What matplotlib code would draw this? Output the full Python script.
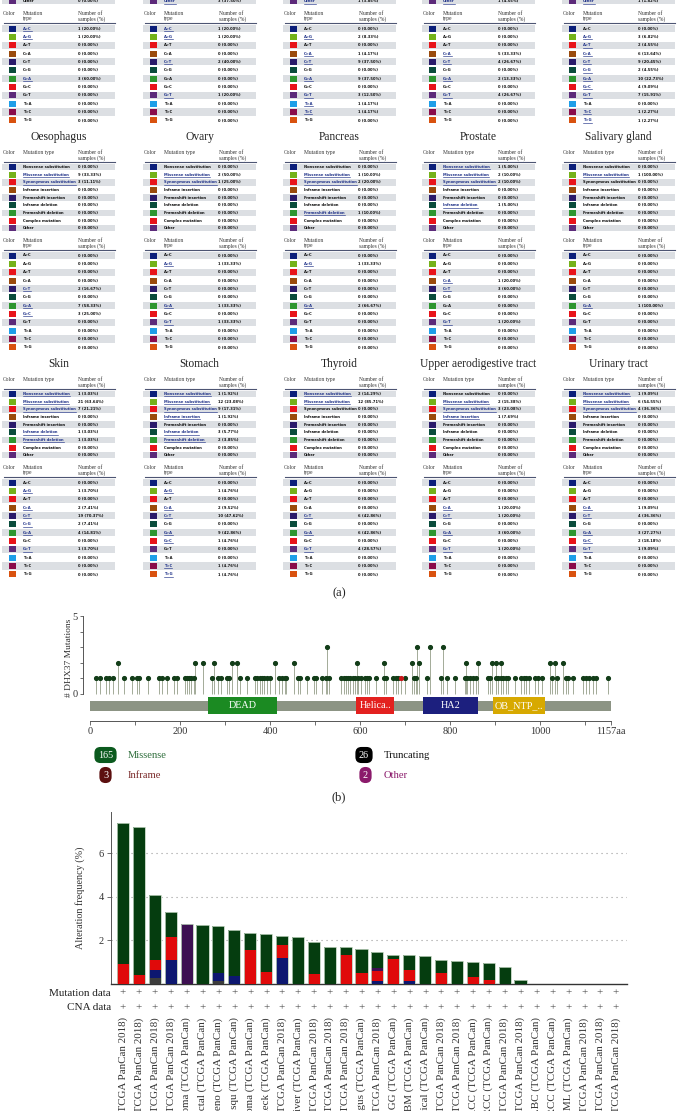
import matplotlib
matplotlib.use('Agg')
import matplotlib.pyplot as plt
from matplotlib.patches import Rectangle
from matplotlib.transforms import blended_transform_factory
import numpy as np

W, H = 678, 1111
SERIF = ['Liberation Serif', 'DejaVu Serif']
NARROW = ['Liberation Sans Narrow', 'DejaVu Sans']
plt.rcParams['font.family'] = SERIF

# ---------------------------------------------------------------- panel (a) data
type1_labels = ['Nonsense substitution', 'Missense substitution', 'Synonymous substitution',
                'Inframe insertion', 'Frameshift insertion', 'Inframe deletion',
                'Frameshift deletion', 'Complex mutation', 'Other']
type1_colors = ['#0c1f7a', '#74b21a', '#e8141a', '#9a4b0c', '#2a1a6a', '#0a4c3c',
                '#2e9630', '#e8141a', '#5c2a7a']
type2_labels = ['A>C', 'A>G', 'A>T', 'C>A', 'C>T', 'C>G', 'G>A', 'G>C', 'G>T', 'T>A', 'T>C', 'T>G']
type2_colors = ['#0c1f7a', '#74b21a', '#e8141a', '#9a4b0c', '#2a1a6a', '#0a4c3c',
                '#2e9630', '#e8141a', '#5c2a7a', '#1e9ee8', '#8a0c4a', '#d9520f']
z = '0 (0.00%)'

# top row (titles cut off): last row of table 1 and full table 2
top_other = [z, '3 (37.50%)', '1 (3.85%)', '1 (4.55%)', '1 (1.82%)']
top_t2 = [
    ['1 (20.00%)', '1 (20.00%)', z, z, z, z, '3 (60.00%)', z, z, z, z, z],
    ['1 (20.00%)', '1 (20.00%)', z, z, '2 (40.00%)', z, z, z, '1 (20.00%)', z, z, z],
    [z, '2 (8.33%)', z, '1 (4.17%)', '9 (37.50%)', z, '9 (37.50%)', z, '3 (12.50%)', '1 (4.17%)', '1 (4.17%)', z],
    [z, z, z, '5 (33.33%)', '4 (26.67%)', z, '2 (13.33%)', z, '4 (26.67%)', z, z, z],
    [z, '3 (6.82%)', '2 (4.55%)', '6 (13.64%)', '9 (20.45%)', '2 (4.55%)', '10 (22.73%)', '4 (9.09%)',
     '7 (15.91%)', z, '1 (2.27%)', '1 (2.27%)'],
]

row1_titles = ['Oesophagus', 'Ovary', 'Pancreas', 'Prostate', 'Salivary gland']
row1_t1 = [
    [z, '9 (33.33%)', '3 (11.11%)', z, z, z, z, z, z],
    [z, '2 (50.00%)', '1 (25.00%)', z, z, z, z, z, z],
    [z, '1 (10.00%)', '2 (20.00%)', z, z, z, '1 (10.00%)', z, z],
    ['1 (5.00%)', '2 (10.00%)', '2 (10.00%)', z, z, '1 (5.00%)', z, z, z],
    [z, '1 (100.00%)', z, z, z, z, z, z, z],
]
row1_t2 = [
    [z, z, z, z, '2 (16.67%)', z, '7 (58.33%)', '3 (25.00%)', z, z, z, z],
    [z, '1 (33.33%)', z, z, z, z, '1 (33.33%)', z, '1 (33.33%)', z, z, z],
    [z, '1 (33.33%)', z, z, z, z, '2 (66.67%)', z, z, z, z, z],
    [z, z, z, '1 (20.00%)', '3 (60.00%)', z, z, z, '1 (20.00%)', z, z, z],
    [z, z, z, z, z, z, '1 (100.00%)', z, z, z, z, z],
]

row2_titles = ['Skin', 'Stomach', 'Thyroid', 'Upper aerodigestive tract', 'Urinary tract']
row2_t1 = [
    ['1 (3.03%)', '21 (63.64%)', '7 (21.21%)', z, z, '1 (3.03%)', '1 (3.03%)', z, z],
    ['1 (1.92%)', '12 (23.08%)', '9 (17.31%)', '1 (1.92%)', z, '3 (5.77%)', '2 (3.85%)', z, z],
    ['2 (14.29%)', '12 (85.71%)', z, z, z, z, z, z, z],
    [z, '2 (15.38%)', '3 (23.08%)', '1 (7.69%)', z, z, z, z, z],
    ['1 (9.09%)', '6 (54.55%)', '4 (36.36%)', z, z, z, z, z, z],
]
row2_t2 = [
    [z, '1 (3.70%)', z, '2 (7.41%)', '19 (70.37%)', '2 (7.41%)', '4 (14.81%)', z, '1 (3.70%)', z, z, z],
    [z, '1 (4.76%)', z, '2 (9.52%)', '10 (47.62%)', z, '9 (42.86%)', '1 (4.76%)', z, z, '1 (4.76%)', '1 (4.76%)'],
    [z, z, z, z, '6 (42.86%)', z, '6 (42.86%)', z, '4 (28.57%)', z, z, z],
    [z, z, z, '1 (20.00%)', '1 (20.00%)', z, '3 (60.00%)', z, '1 (20.00%)', z, z, z],
    [z, z, z, '1 (9.09%)', '4 (36.36%)', z, '3 (27.27%)', '2 (18.18%)', '1 (9.09%)', z, z, z],
]

# ---------------------------------------------------------------- panel (b) data
pos_h1 = [13, 22, 35, 43, 52, 76, 93, 104, 109, 128, 154, 161, 171, 187, 194, 210, 215, 220, 225, 230,
          272, 284, 291, 304, 309, 333, 349, 366, 371, 377, 382, 387, 392, 399, 420, 427, 432, 436,
          462, 467, 481, 498, 502, 516, 524, 530, 557, 563, 568, 573, 578, 583, 589, 596, 601, 610,
          615, 620, 636, 653, 658, 674, 679, 684, 700, 719, 723, 749, 780, 792, 811, 832, 837, 843,
          850, 857, 883, 888, 902, 907, 912, 917, 923, 928, 943, 957, 963, 968, 975, 989, 996, 1003,
          1025, 1037, 1057, 1062, 1072, 1095, 1102, 1109, 1116, 1123, 1150]
pos_h2 = [63, 234, 250, 276, 315, 327, 411, 454, 592, 654, 714, 731, 834, 861, 892, 901, 913, 1021,
          1032, 1050]
pos_h3 = [527, 726, 755, 785]
pos_inframe = [691]
domains = [('DEAD', 262, 416, '#1b8a22'), ('Helica..', 591, 676, '#e3211f'),
           ('HA2', 739, 861, '#1c1f7e'), ('OB_NTP_..', 895, 1011, '#d7a900')]
protein_len = 1157
legend_counts = [('165', 'Missense'), ('26', 'Truncating'), ('3', 'Inframe'), ('2', 'Other')]

# ---------------------------------------------------------------- panel (c) data
studies = [
    'Uterine Corpus Endometrial Carcinoma (TCGA PanCan 2018)',
    'Skin Cutaneous Melanoma (TCGA PanCan 2018)',
    'Stomach Adenocarcinoma (TCGA PanCan 2018)',
    'Bladder Urothelial Carcinoma (TCGA PanCan 2018)',
    'Uterine Carcinosarcoma (TCGA PanCan)',
    'Colorectal (TCGA PanCan)',
    'Lung Adeno (TCGA PanCan)',
    'Lung squ (TCGA PanCan)',
    'Mesothelioma (TCGA PanCan)',
    'Head & neck (TCGA PanCan)',
    'Breast Invasive Carcinoma (TCGA PanCan 2018)',
    'Liver (TCGA PanCan)',
    'Pancreatic Adenocarcinoma (TCGA PanCan 2018)',
    'Prostate Adenocarcinoma (TCGA PanCan 2018)',
    'Cholangiocarcinoma (TCGA PanCan 2018)',
    'Esophagus (TCGA PanCan)',
    'Ovarian Serous Cystadenocarcinoma (TCGA PanCan 2018)',
    'LGG (TCGA PanCan)',
    'GBM (TCGA PanCan)',
    'Cervical (TCGA PanCan)',
    'Thyroid Carcinoma (TCGA PanCan 2018)',
    'Pheochromocytoma and Paraganglioma (TCGA PanCan 2018)',
    'ccRCC (TCGA PanCan)',
    'pRCC (TCGA PanCan)',
    'Sarcoma (TCGA PanCan 2018)',
    'Testicular Germ Cell Tumors (TCGA PanCan 2018)',
    'DLBC (TCGA PanCan)',
    'chRCC (TCGA PanCan)',
    'AML (TCGA PanCan)',
    'Thymoma (TCGA PanCan 2018)',
    'Uveal Melanoma (TCGA PanCan 2018)',
    'Adrenocortical Carcinoma (TCGA PanCan 2018)',
]
multiple = [0, 0, 0.26, 0, 0, 0, 0.15, 0, 0, 0, 0, 0, 0, 0, 0, 0, 0, 0, 0, 0, 0, 0, 0, 0, 0, 0, 0, 0, 0, 0, 0, 0]
deep_del = [0, 0, 0.39, 1.10, 0, 0, 0.35, 0.37, 0, 0, 1.18, 0, 0, 0, 0, 0, 0.15, 0, 0.14, 0, 0, 0, 0, 0, 0, 0, 0, 0, 0, 0, 0, 0]
amplif = [0.92, 0.42, 0.45, 1.08, 0, 0, 0, 0, 1.57, 0.54, 0.62, 0, 0.46, 0, 1.34, 0.49, 0.47, 1.14, 0.51, 0, 0.52, 0, 0.34, 0.18, 0, 0, 0, 0, 0, 0, 0, 0]
fusion = [0, 0, 0, 0, 2.77, 0, 0, 0, 0, 0, 0, 0, 0, 0, 0, 0, 0.10, 0, 0, 0, 0, 0, 0, 0, 0, 0, 0, 0, 0, 0, 0, 0]
mutation = [6.47, 6.78, 3.00, 1.12, 0, 2.70, 2.15, 2.09, 0.77, 1.75, 0.40, 2.15, 1.49, 1.72, 0.35, 1.14, 0.73, 0.20, 0.69, 1.31, 0.59, 1.08, 0.69, 0.77, 0.77, 0.17, 0, 0, 0, 0, 0, 0]

# ---------------------------------------------------------------- figure
fig = plt.figure(figsize=(W / 100, H / 100), dpi=100)
axA = fig.add_axes([0, 0, 1, 1])
axA.set_xlim(0, W)
axA.set_ylim(H, 0)
axA.axis('off')
r = fig.canvas.get_renderer()

# choose a size so the longest label fits its column, as in the reference
probe = axA.text(0, 0, 'Synonymous substitution', fontsize=10, fontweight='bold', family=NARROW,
                 fontstretch='condensed')
FS = 10 * 53.0 / probe.get_window_extent(r).width
probe.remove()
FS = min(FS, 4.4)

COL_X0 = [2, 143, 283, 422, 562]
TW = 113
HFS = 4.0
LINK = '#23358a'
links = []


def draw_row(x0, y, step, i, lab, col, val):
    if i % 2 == 0:
        axA.add_patch(Rectangle((x0, y - step / 2 + 0.6), TW, step - 1.2, color='#dcdfe3', lw=0))
    axA.add_patch(Rectangle((x0 + 7, y - 3), 7, 6, color=col, lw=0))
    link = not val.startswith('0 ')
    t = axA.text(x0 + 21, y, lab, fontsize=FS, fontweight='bold', family=NARROW, fontstretch='condensed',
                 color=LINK if link else '#111111', va='center', ha='left')
    axA.text(x0 + 75.5, y, val, fontsize=FS, fontweight='bold', family=NARROW, fontstretch='condensed',
             color='#111111', va='center', ha='left')
    if link:
        links.append((t, y))


def draw_header(x0, line_y, two_line):
    top = line_y - 12
    axA.text(x0 + 1, top, 'Color', fontsize=HFS, va='top', ha='left', color='#333333')
    axA.text(x0 + 21, top, 'Mutation\ntype' if two_line else 'Mutation type', fontsize=HFS,
             va='top', ha='left', color='#333333', linespacing=1.0)
    axA.text(x0 + 76, top, 'Number of\nsamples (%)', fontsize=HFS, va='top', ha='left',
             color='#333333', linespacing=1.0)
    axA.plot([x0 + 2, x0 + TW], [line_y, line_y], color='#4d5573', lw=0.8)


def draw_block(x0, Y, t1_vals, t2_vals, title):
    if title:
        axA.text(x0 + TW / 2, Y - 30, title, fontsize=8.3, ha='center', va='center', color='#222222')
        draw_header(x0, Y - 5, False)
    s1 = 7.65
    for i, (lab, col, val) in enumerate(zip(type1_labels, type1_colors, t1_vals)):
        if val is None:
            continue
        draw_row(x0, Y + i * s1, s1, i, lab, col, val)
    draw_header(x0, Y + 83, True)
    s2 = 8.35
    for j, (lab, col, val) in enumerate(zip(type2_labels, type2_colors, t2_vals)):
        draw_row(x0, Y + 88.5 + j * s2, s2, j, lab, col, val)


ROW_Y = [-60, 167, 394]
for c in range(5):
    draw_block(COL_X0[c], ROW_Y[0], [None] * 8 + [top_other[c]], top_t2[c], None)
    draw_block(COL_X0[c], ROW_Y[1], row1_t1[c], row1_t2[c], row1_titles[c])
    draw_block(COL_X0[c], ROW_Y[2], row2_t1[c], row2_t2[c], row2_titles[c])

axA.text(339, 593, '(a)', fontsize=9, ha='center', va='center', color='#222222')
axA.text(339, 797, '(b)', fontsize=9, ha='center', va='center', color='#222222')

# ---------------------------------------------------------------- panel (b)
axB = fig.add_axes([83 / W, 1 - 720.5 / H, 528 / W, 104.5 / H])
axB.set_facecolor('none')
axB.set_xlim(-15.5, protein_len)
axB.set_ylim(-1.7, 5.0)
stem_c = '#a3ab98'
head_c = '#123d18'
for pos, h in [(pos_h1, 1), (pos_h2, 2), (pos_h3, 3)]:
    axB.vlines(pos, 0, h, color=stem_c, lw=0.7, zorder=2)
    axB.plot(pos, [h] * len(pos), 'o', ms=2.7, color=head_c, mec=head_c, zorder=3)
axB.vlines(pos_inframe, 0, 1, color=stem_c, lw=0.7, zorder=2)
axB.plot(pos_inframe, [1] * len(pos_inframe), 'o', ms=2.7, color='#c8161a', mec='#c8161a', zorder=3)
axB.add_patch(Rectangle((0, -1.1), protein_len, 0.62, color='#8c9484', lw=0, zorder=2))
for name, a, b, col in domains:
    axB.add_patch(Rectangle((a, -1.3), b - a, 1.08, color=col, lw=0, zorder=3))
    axB.text((a + b) / 2, -0.76, name, color='white', fontsize=7.3, ha='center', va='center', zorder=4)
for s in ['top', 'right']:
    axB.spines[s].set_visible(False)
axB.spines['left'].set_bounds(0, 5)
axB.spines['bottom'].set_bounds(0, protein_len)
for s in ['left', 'bottom']:
    axB.spines[s].set_color('#555555')
    axB.spines[s].set_linewidth(0.7)
axB.set_yticks([0, 1, 2, 3, 4, 5])
axB.set_yticklabels(['0', '', '', '', '', '5'])
axB.set_xticks([0, 200, 400, 600, 800, 1000, protein_len])
axB.set_xticklabels(['0', '200', '400', '600', '800', '1000', '1157aa'])
axB.set_xticks([100, 300, 500, 700, 900, 1100], minor=True)
axB.tick_params(axis='both', which='both', length=3, width=0.6, color='#555555',
                labelsize=7.5, labelcolor='#333333', pad=2)
axB.tick_params(axis='y', length=2.5, pad=1.5)
axA.text(69, 658, '# DHX37 Mutations', rotation=90, fontsize=6.8, ha='center', va='center', color='#333333')

# legend of panel (b)
badge_specs = [(105.5, 755, '#0b5a1e', '#2f6e3c', 128), (364, 755, '#000000', '#111111', 384),
               (105.5, 775, '#5c0f0f', '#7a2a2a', 128), (365.5, 775, '#8b1a6b', '#8b1a6b', 384)]
for (num, lab), (bx, by, bc, tc, tx) in zip(legend_counts, badge_specs):
    axA.text(bx, by, num, fontsize=7.3, color='white', ha='center', va='center',
             bbox=dict(boxstyle='round,pad=0.35,rounding_size=0.6', fc=bc, ec='none'))
    axA.text(tx, by, lab, fontsize=7.6, color=tc, ha='left', va='center')

# ---------------------------------------------------------------- panel (c)
axC = fig.add_axes([110.6 / W, 1 - 984 / H, (627 - 110.6) / W, (984 - 811.7) / H])
axC.set_facecolor('none')
x = np.arange(len(studies))
axC.set_xlim(-0.78, 31.7)
axC.set_ylim(0, 7.92)
bottom = np.zeros(len(studies))
for vals, col in [(multiple, '#3c3c3c'), (deep_del, '#0d1770'), (amplif, '#e00a0a'),
                  (fusion, '#3d1052'), (mutation, '#053d0f')]:
    v = np.array(vals)
    axC.bar(x, v, 0.76, bottom=bottom, color=col, edgecolor='none', zorder=3)
    bottom += v
axC.bar(x, bottom, 0.76, color='none', edgecolor='#b9cdb9', lw=0.6, zorder=4)
for gy in [2, 4, 6]:
    axC.axhline(gy, color='#9a9a9a', lw=0.8, ls=(0, (1, 3.5)), zorder=1)
for s in ['top', 'right']:
    axC.spines[s].set_visible(False)
axC.spines['left'].set_color('#555555')
axC.spines['bottom'].set_color('#333333')
axC.spines['left'].set_linewidth(0.7)
axC.spines['bottom'].set_linewidth(1.0)
axC.set_yticks([2, 4, 6])
axC.tick_params(axis='y', length=3, width=0.6, color='#555555', labelsize=7.5, labelcolor='#333333', pad=2)
axC.set_xticks(x)
axC.set_xticklabels(studies, rotation=90, fontsize=7.9, color='#333333')
axC.tick_params(axis='x', length=0, pad=24)
axA.text(80, 898, 'Alteration frequency (%)', rotation=90, fontsize=7.3, ha='center', va='center', color='#333333')

tr = blended_transform_factory(axC.transData, axA.transData)
axA.text(111, 993, 'Mutation data', fontsize=8, ha='right', va='center', color='#222222')
axA.text(111, 1008, 'CNA data', fontsize=8, ha='right', va='center', color='#222222')
for i in x:
    axA.text(i, 993, '+', transform=tr, fontsize=8, ha='center', va='center', color='#444444')
    axA.text(i, 1008, '+', transform=tr, fontsize=8, ha='center', va='center', color='#444444')

# underline the linked labels of panel (a)
for t, y in links:
    bb = t.get_window_extent(r)
    axA.plot([bb.x0, bb.x1], [y + 2.3, y + 2.3], color=LINK, lw=0.45)

fig.savefig('out.png', dpi=100)
